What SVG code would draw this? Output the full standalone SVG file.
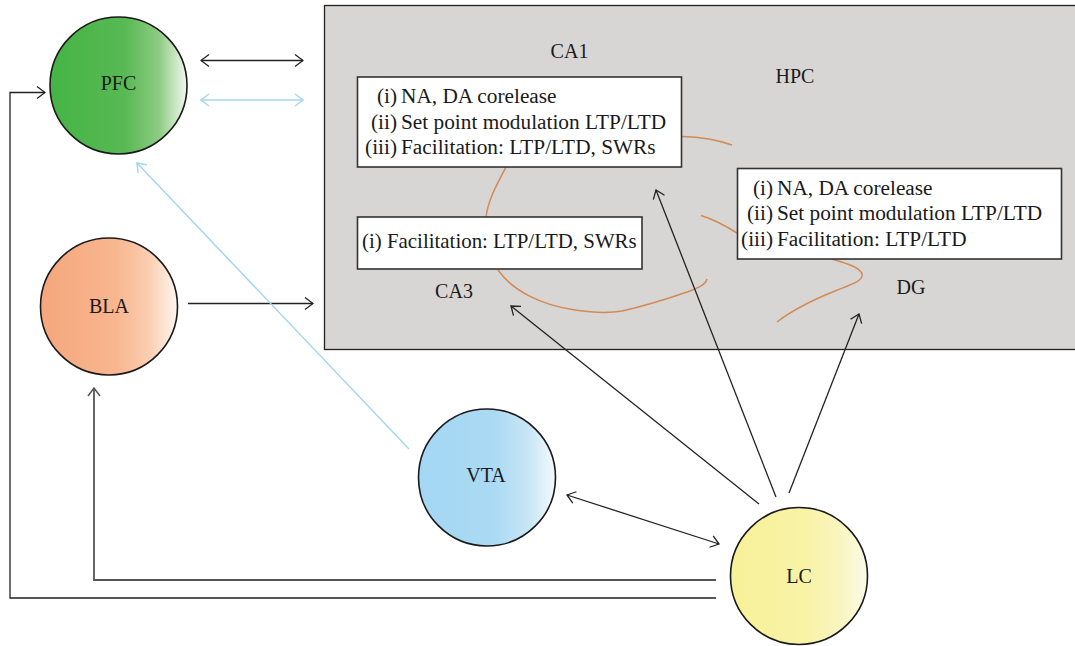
<svg xmlns="http://www.w3.org/2000/svg" width="1075" height="646" viewBox="0 0 1075 646">
<defs>
<style>
.lbl{font-family:"Liberation Serif","Times New Roman",serif;font-size:20px;fill:#1a1a1a}
.bt{font-family:"Liberation Serif","Times New Roman",serif;font-size:21.3px;fill:#1a1a1a}
.node{stroke:#1a1a1a;stroke-width:1.6}
.box{fill:#fff;stroke:#333;stroke-width:1.6}
.c{fill:none;stroke:#222;stroke-width:1.3}
.cg{fill:none;stroke:#555;stroke-width:1.8}
.cb{fill:none;stroke:#a5d6ef;stroke-width:1.5}
.br{fill:none;stroke:#d28a55;stroke-width:1.5}
</style>
<marker id="ah" viewBox="0 0 10 14" refX="9" refY="7" markerWidth="10" markerHeight="14" markerUnits="userSpaceOnUse" orient="auto-start-reverse"><path d="M1,1 L9,7 L1,13" fill="none" stroke="#222" stroke-width="1.3"/></marker>
<marker id="ahg" viewBox="0 0 10 14" refX="9" refY="7" markerWidth="10" markerHeight="14" markerUnits="userSpaceOnUse" orient="auto-start-reverse"><path d="M1,1 L9,7 L1,13" fill="none" stroke="#555" stroke-width="1.5"/></marker>
<marker id="ahb" viewBox="0 0 10 14" refX="9" refY="7" markerWidth="10" markerHeight="14" markerUnits="userSpaceOnUse" orient="auto-start-reverse"><path d="M1,1 L9,7 L1,13" fill="none" stroke="#a5d6ef" stroke-width="1.5"/></marker>
<linearGradient id="gPFC" x1="0" y1="0" x2="1" y2="0"><stop offset="0" stop-color="#45b445"/><stop offset="0.55" stop-color="#58b953"/><stop offset="0.8" stop-color="#8fcc85"/><stop offset="1" stop-color="#f2f9ef"/></linearGradient>
<linearGradient id="gBLA" x1="0" y1="0" x2="1" y2="0"><stop offset="0" stop-color="#f5a67c"/><stop offset="0.55" stop-color="#f8b68f"/><stop offset="0.8" stop-color="#fbcfb2"/><stop offset="1" stop-color="#fff6f1"/></linearGradient>
<linearGradient id="gVTA" x1="0" y1="0" x2="1" y2="0"><stop offset="0" stop-color="#a3d7f3"/><stop offset="0.55" stop-color="#abdaf3"/><stop offset="0.8" stop-color="#c7e6f6"/><stop offset="1" stop-color="#f4fafd"/></linearGradient>
<linearGradient id="gLC" x1="0" y1="0" x2="1" y2="0"><stop offset="0" stop-color="#f7f199"/><stop offset="0.55" stop-color="#f8f3a6"/><stop offset="0.8" stop-color="#f9f5c0"/><stop offset="1" stop-color="#fcfbea"/></linearGradient>
</defs>
<rect width="1075" height="646" fill="#fff"/>
<g id="HPC">
<rect x="324.5" y="5.5" width="760" height="344" fill="#d7d6d4" stroke="#222" stroke-width="1.3"/>
<text class="lbl" x="795" y="83" text-anchor="middle">HPC</text>
<text class="lbl" x="569.5" y="58" text-anchor="middle">CA1</text>
<text class="lbl" x="454" y="297.5" text-anchor="middle">CA3</text>
<text class="lbl" x="911" y="294" text-anchor="middle">DG</text>
</g>
<g id="subfields">
<path class="br" d="M506,167 C498,182 488,200 486,217"/>
<path class="br" d="M682,136.5 C700,137 718,140 732,145"/>
<path class="br" d="M498,270 C512,290 540,305 575,310 C595,313 610,313 622,311 C640,307 670,298 690,291 C700,287 706,284 707,279"/>
<path class="br" d="M701,215.5 C712,219 726,226 737,233"/>
<path class="br" d="M832,259 C845,263 860,267 862,274 C864,281 850,285 835,291 C815,299 795,308 777,322"/>
</g>
<g id="CA1-box">
<rect class="box" x="357.5" y="77" width="324" height="90"/>
<text class="bt" x="397" y="103" text-anchor="end">(i)</text><text class="bt" x="401" y="103">NA, DA corelease</text>
<text class="bt" x="397" y="128.5" text-anchor="end">(ii)</text><text class="bt" x="401" y="128.5">Set point modulation LTP/LTD</text>
<text class="bt" x="397" y="154" text-anchor="end">(iii)</text><text class="bt" x="401" y="154">Facilitation: LTP/LTD, SWRs</text>
</g>
<g id="CA3-box">
<rect class="box" x="357.5" y="217" width="284.5" height="52"/>
<text class="bt" x="362" y="248" style="font-size:20.9px">(i) Facilitation: LTP/LTD, SWRs</text>
</g>
<g id="DG-box">
<rect class="box" x="737.5" y="168.5" width="324" height="90.5"/>
<text class="bt" x="773" y="195" text-anchor="end">(i)</text><text class="bt" x="777" y="195">NA, DA corelease</text>
<text class="bt" x="773" y="220" text-anchor="end">(ii)</text><text class="bt" x="777" y="220">Set point modulation LTP/LTD</text>
<text class="bt" x="773" y="245.5" text-anchor="end">(iii)</text><text class="bt" x="777" y="245.5">Facilitation: LTP/LTD</text>
</g>
<g id="connectors">
<path class="c" d="M201,60.5 H303" marker-start="url(#ah)" marker-end="url(#ah)"/>
<path class="cb" d="M201,100 H303" marker-start="url(#ahb)" marker-end="url(#ahb)"/>
<path class="c" d="M188,303.5 H313" marker-end="url(#ah)"/>
<path class="c" d="M716,598 H10 V92.5 H45" marker-end="url(#ah)"/>
<path class="cg" d="M716,580 H94 V388" marker-end="url(#ahg)"/>
<path class="cb" d="M409,449 L137,163" marker-end="url(#ahb)"/>
<path class="c" d="M567,495 L719,544" marker-start="url(#ah)" marker-end="url(#ah)"/>
<path class="c" d="M759,504 L511,306" marker-end="url(#ah)"/>
<path class="c" d="M776,497 L656,190" marker-end="url(#ah)"/>
<path class="c" d="M789,493 L859,314" marker-end="url(#ah)"/>
</g>
<g id="PFC">
<circle class="node" cx="118.5" cy="85.5" r="68.5" fill="url(#gPFC)"/>
<text class="lbl" x="118.5" y="90" text-anchor="middle">PFC</text>
</g>
<g id="BLA">
<circle class="node" cx="109" cy="306.5" r="68.5" fill="url(#gBLA)"/>
<text class="lbl" x="109" y="312.5" text-anchor="middle">BLA</text>
</g>
<g id="VTA">
<circle class="node" cx="487" cy="477.5" r="68.5" fill="url(#gVTA)"/>
<text class="lbl" x="486" y="481.5" text-anchor="middle">VTA</text>
</g>
<g id="LC">
<circle class="node" cx="799" cy="576" r="68.5" fill="url(#gLC)"/>
<text class="lbl" x="799" y="582.5" text-anchor="middle">LC</text>
</g>
</svg>
